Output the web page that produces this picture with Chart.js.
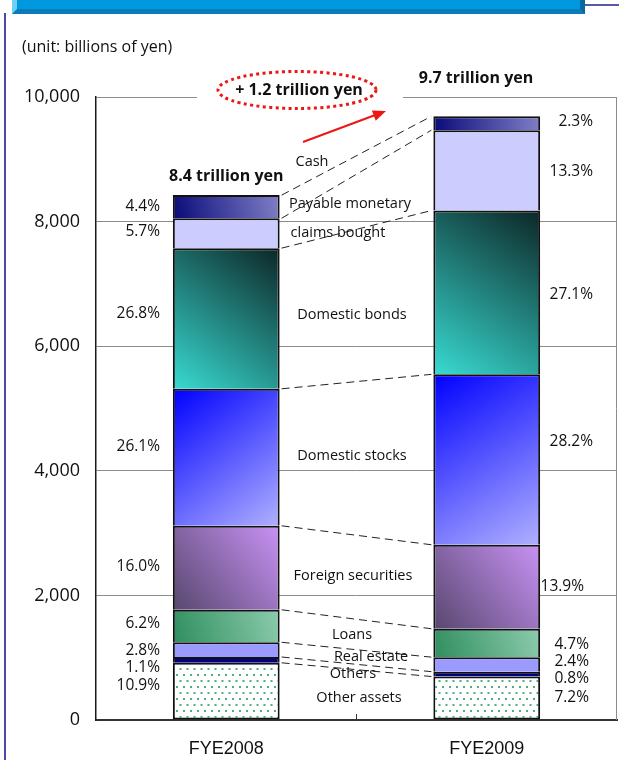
<!DOCTYPE html>
<html>
<head>
<meta charset="utf-8">
<script src="https://cdn.jsdelivr.net/npm/chart.js@4/dist/chart.umd.min.js"></script>
<style>
  html, body { margin: 0; padding: 0; background: #fff; }
  #wrap { width: 619px; height: 760px; }
</style>
</head>
<body>
<div id="wrap"><canvas id="chart" width="619" height="760"></canvas></div>
<script>
// values, billions of yen, bottom segment first
const categories = ["FYE2008", "FYE2009"];
const assetNames = ["Other assets", "Others", "Real estate", "Loans", "Foreign securities",
  "Domestic stocks", "Domestic bonds", "Payable monetary claims bought", "Cash"];
const fye2008 = [918, 93, 236, 522, 1348, 2199, 2258, 480, 371];
const fye2009 = [698, 78, 233, 456, 1348, 2735, 2629, 1290, 223];
const pct2008 = ["10.9%", "1.1%", "2.8%", "6.2%", "16.0%", "26.1%", "26.8%", "5.7%", "4.4%"];
const pct2009 = ["7.2%", "0.8%", "2.4%", "4.7%", "13.9%", "28.2%", "27.1%", "13.3%", "2.3%"];
const yTicks = [0, 2000, 4000, 6000, 8000, 10000];
const totals = ["8.4 trillion yen", "9.7 trillion yen"];
const increase = "+ 1.2 trillion yen";

const FONT = "'Open Sans', sans-serif";
const BAR_FRAC = 0.41;

// dotted fill for "Other assets"
function dotPattern() {
  const c = document.createElement("canvas");
  c.width = 7; c.height = 12;
  const g = c.getContext("2d");
  g.fillStyle = "#fff";
  g.fillRect(0, 0, 7, 12);
  g.fillStyle = "#4fae80";
  g.fillRect(1, 2, 2, 2);
  g.fillRect(4.5, 8, 2, 2);
  return g.createPattern(c, "repeat");
}
const dots = dotPattern();

// fill style per segment: solid colour or [from, to, direction]
const fills = [
  "pattern",
  "#000080",
  "#9a9aff",
  ["#2f8e5e", "#8ccbad", "up"],
  ["#57476e", "#c992f5", "up"],
  ["#0000ff", "#b0b0ff", "down"],
  ["#38dbd2", "#0c2626", "up"],
  "#ccccff",
  ["#0a0a7a", "#8080c6", "up"]
];

function segFill(context) {
  const chart = context.chart;
  const area = chart.chartArea;
  const d = context.datasetIndex;
  const f = fills[d];
  if (f === "pattern") return dots;
  if (typeof f === "string") return f;
  if (!area) return f[0];
  const i = context.dataIndex;
  let base = 0;
  for (let k = 0; k < d; k++) base += chart.data.datasets[k].data[i];
  const top = base + chart.data.datasets[d].data[i];
  const ys = chart.scales.y, xs = chart.scales.x;
  const yB = ys.getPixelForValue(base), yT = ys.getPixelForValue(top);
  const xc = xs.getPixelForValue(i);
  const half = area.width / categories.length * BAR_FRAC / 2;
  const g = f[2] === "up"
    ? chart.ctx.createLinearGradient(xc - half, yB, xc + half, yT)
    : chart.ctx.createLinearGradient(xc - half, yT, xc + half, yB);
  g.addColorStop(0, f[0]);
  g.addColorStop(1, f[1]);
  return g;
}

function cum(arr) {
  const out = [];
  let s = 0;
  arr.forEach(v => { s += v; out.push(s); });
  return out;
}

// annotation layout: [text, x, y-value]
const midLabels = [
  ["Cash", 312, 8957], ["Payable monetary", 350, 8283], ["claims bought", 338, 7817],
  ["Domestic bonds", 352, 6501], ["Domestic stocks", 352, 4238], ["Foreign securities", 353, 2311],
  ["Loans", 352, 1364], ["Real estate", 371, 1011], ["Others", 353, 738], ["Other assets", 359, 353]
];
const leftPctY = [546, 835, 1108, 1541, 2456, 4382, 6517, 7833, 8234];
const rightPctY = [353, 658, 931, 1204, 2135, 4462, 6822, 8796, 9599];
const rightPctX = [589, 589, 589, 589, 584, 593, 593, 593, 593];

const decor = {
  id: "decor",
  beforeDraw(chart) {
    const ctx = chart.ctx;
    ctx.save();
    ctx.fillStyle = "#fff";
    ctx.fillRect(0, 0, chart.width, chart.height);
    // header strip and frame
    ctx.fillStyle = "#0098de";
    ctx.fillRect(12, 0, 573, 9);
    ctx.fillStyle = "#0a7cba";
    ctx.fillRect(12, 9, 573, 5);
    ctx.fillStyle = "#6fd0f4";
    ctx.beginPath(); ctx.moveTo(12, 0); ctx.lineTo(17, 0); ctx.lineTo(17, 9); ctx.lineTo(12, 14); ctx.fill();
    ctx.fillStyle = "#066a9e";
    ctx.beginPath(); ctx.moveTo(580, 0); ctx.lineTo(585, 0); ctx.lineTo(585, 14); ctx.lineTo(580, 9); ctx.fill();
    ctx.strokeStyle = "#22228a";
    ctx.lineWidth = 1.5;
    ctx.beginPath(); ctx.moveTo(585, 5); ctx.lineTo(619, 5); ctx.stroke();
    ctx.strokeStyle = "#4a4aa6";
    ctx.lineWidth = 2;
    ctx.beginPath(); ctx.moveTo(5, 13); ctx.lineTo(5, 760); ctx.stroke();
    ctx.restore();
  },
  afterDatasetsDraw(chart) {
    const ctx = chart.ctx;
    const area = chart.chartArea;
    const xs = chart.scales.x, ys = chart.scales.y;
    const half = area.width / categories.length * BAR_FRAC / 2;
    const x1 = xs.getPixelForValue(0) + half;
    const x2 = xs.getPixelForValue(1) - half;
    const c1 = cum(fye2008), c2 = cum(fye2009);
    ctx.save();
    // right border and middle tick
    ctx.strokeStyle = "#8c8c8c";
    ctx.lineWidth = 1;
    ctx.beginPath(); ctx.moveTo(area.right - 0.5, area.top); ctx.lineTo(area.right - 0.5, area.bottom); ctx.stroke();
    ctx.strokeStyle = "#333";
    const xm = (xs.getPixelForValue(0) + xs.getPixelForValue(1)) / 2;
    ctx.beginPath(); ctx.moveTo(xm, area.bottom); ctx.lineTo(xm, area.bottom - 6); ctx.stroke();
    // dashed connectors
    ctx.strokeStyle = "#222";
    ctx.setLineDash([8, 5]);
    c1.forEach((v, k) => {
      ctx.beginPath();
      ctx.moveTo(x1 + 2, ys.getPixelForValue(v));
      ctx.lineTo(x2 - 2, ys.getPixelForValue(c2[k]));
      ctx.stroke();
    });
    ctx.setLineDash([]);
    // white box and dotted ellipse for the increase
    ctx.fillStyle = "#fff";
    ctx.fillRect(197, 68, 206, 42);
    ctx.strokeStyle = "#ee1515";
    ctx.lineWidth = 3;
    ctx.setLineDash([3, 3.4]);
    ctx.beginPath(); ctx.ellipse(297, 90, 79, 18.5, 0, 0, Math.PI * 2); ctx.stroke();
    ctx.setLineDash([]);
    // arrow
    const ax0 = 303, ay0 = 142, ax1 = 386, ay1 = 111;
    const ang = Math.atan2(ay1 - ay0, ax1 - ax0);
    ctx.strokeStyle = "#ee1515";
    ctx.fillStyle = "#ee1515";
    ctx.lineWidth = 2;
    ctx.beginPath();
    ctx.moveTo(ax0, ay0);
    ctx.lineTo(ax1 - 10 * Math.cos(ang), ay1 - 10 * Math.sin(ang));
    ctx.stroke();
    ctx.beginPath();
    ctx.moveTo(ax1, ay1);
    ctx.lineTo(ax1 - 13 * Math.cos(ang) + 5.5 * Math.sin(ang), ay1 - 13 * Math.sin(ang) - 5.5 * Math.cos(ang));
    ctx.lineTo(ax1 - 13 * Math.cos(ang) - 5.5 * Math.sin(ang), ay1 - 13 * Math.sin(ang) + 5.5 * Math.cos(ang));
    ctx.closePath();
    ctx.fill();
    // texts
    ctx.fillStyle = "#111";
    ctx.textBaseline = "middle";
    ctx.textAlign = "left";
    ctx.font = "16px " + FONT;
    ctx.fillText("(unit: billions of yen)", 22, 47);
    ctx.textAlign = "center";
    ctx.font = "bold 16px " + FONT;
    ctx.fillText(totals[0], xs.getPixelForValue(0), 176);
    ctx.fillText(totals[1], 476, 78);
    ctx.fillText(increase, 299, 90);
    ctx.font = "14.5px " + FONT;
    midLabels.forEach(([t, x, v]) => ctx.fillText(t, x, ys.getPixelForValue(v)));
    ctx.font = "15.5px " + FONT;
    ctx.textAlign = "right";
    pct2008.forEach((t, k) => ctx.fillText(t, 160, ys.getPixelForValue(leftPctY[k])));
    pct2009.forEach((t, k) => ctx.fillText(t, rightPctX[k], ys.getPixelForValue(rightPctY[k])));
    ctx.restore();
  }
};

const datasets = assetNames.map((name, k) => ({
  label: name,
  data: [fye2008[k], fye2009[k]],
  backgroundColor: segFill,
  borderColor: "#111",
  borderWidth: 2,
  borderSkipped: k === 0 ? false : "start",
  categoryPercentage: 1,
  barPercentage: BAR_FRAC
}));

new Chart(document.getElementById("chart"), {
  type: "bar",
  data: { labels: categories, datasets: datasets },
  plugins: [decor],
  options: {
    responsive: false,
    animation: false,
    layout: { padding: { top: 97, right: 2, left: 0, bottom: 0 } },
    plugins: { legend: { display: false }, tooltip: { enabled: false } },
    scales: {
      x: {
        stacked: true,
        grid: { display: false, drawTicks: false },
        border: { color: "#333", width: 2 },
        ticks: { padding: 18, color: "#111", font: { family: "'Liberation Sans', Arial, sans-serif", size: 18 } },
        afterFit: s => { s.height = 40; }
      },
      y: {
        stacked: true,
        min: 0,
        max: 10000,
        afterBuildTicks: s => { s.ticks = yTicks.map(v => ({ value: v })); },
        grid: { color: "#8c8c8c", drawTicks: false },
        border: { color: "#1a1a1a", width: 1.5 },
        ticks: {
          padding: 16,
          color: "#111",
          font: { family: FONT, size: 18 },
          callback: v => v.toLocaleString("en-US")
        },
        afterFit: s => { s.width = 96; }
      }
    }
  }
});
</script>
</body>
</html>
